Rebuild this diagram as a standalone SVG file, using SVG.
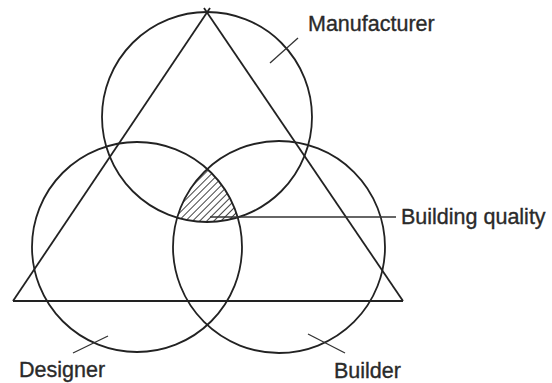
<svg xmlns="http://www.w3.org/2000/svg" width="552" height="383" viewBox="0 0 552 383">
<style>
.ln{fill:none;stroke:#222;stroke-width:1.8}
.lead{fill:none;stroke:#333;stroke-width:1.3}
.lbl{font-family:"Liberation Sans",Arial,sans-serif;font-size:21.5px;fill:#2a2a2a;stroke:#2a2a2a;stroke-width:0.35}
</style>
<defs>
<pattern id="hatch" patternUnits="userSpaceOnUse" width="5" height="5" patternTransform="rotate(-45)">
<line x1="0" y1="2.5" x2="5" y2="2.5" stroke="#444" stroke-width="1"/>
</pattern>
<clipPath id="cTop"><circle cx="207" cy="117" r="105"/></clipPath>
<clipPath id="cLeft"><circle cx="137" cy="247" r="105"/></clipPath>
<clipPath id="cRight"><circle cx="279" cy="247" r="106"/></clipPath>
</defs>
<rect width="552" height="383" fill="#fff"/>
<g id="hatched" clip-path="url(#cTop)">
<g clip-path="url(#cLeft)">
<rect x="0" y="0" width="552" height="383" fill="url(#hatch)" clip-path="url(#cRight)"/>
</g>
</g>
<g id="triangle">
<line class="ln" x1="13" y1="301" x2="403" y2="301"/>
<line class="ln" x1="13" y1="301" x2="210" y2="8"/>
<line class="ln" x1="403" y1="301" x2="204" y2="8"/>
</g>
<g id="manufacturer">
<circle class="ln" cx="207" cy="117" r="105"/>
<text class="lbl" x="308" y="31">Manufacturer</text>
</g>
<g id="designer">
<circle class="ln" cx="137" cy="247" r="105"/>
<text class="lbl" x="19" y="377">Designer</text>
</g>
<g id="builder">
<circle class="ln" cx="279" cy="247" r="106"/>
<text class="lbl" x="334" y="378">Builder</text>
</g>
<g id="quality">
<text class="lbl" x="401" y="224">Building quality</text>
</g>
<g id="connectors">
<line class="lead" x1="210" y1="217" x2="396" y2="217"/>
<line class="lead" x1="270" y1="63" x2="298" y2="38"/>
<line class="lead" x1="73" y1="353" x2="108" y2="336"/>
<line class="lead" x1="308" y1="334" x2="345" y2="353"/>
</g>
</svg>
